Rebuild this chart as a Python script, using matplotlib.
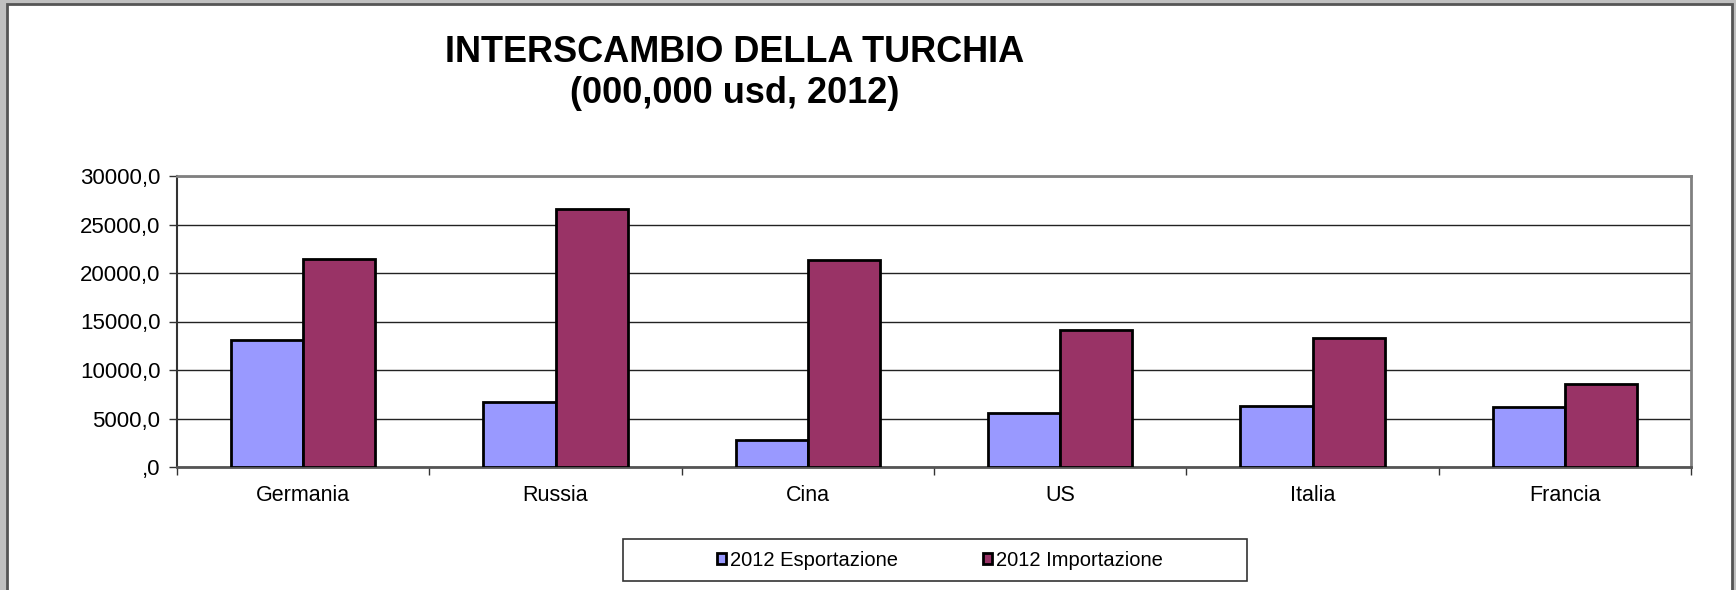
import matplotlib.pyplot as plt
from matplotlib.patches import Rectangle
from matplotlib.ticker import FixedLocator, FuncFormatter
import numpy as np

# data (000,000 usd, 2012)
paesi = ["Germania", "Russia", "Cina", "US", "Italia", "Francia"]
esportazione = [13100, 6700, 2800, 5600, 6300, 6150]
importazione = [21400, 26600, 21300, 14100, 13300, 8550]
serie_labels = ["2012 Esportazione", "2012 Importazione"]
y_ticks = [0, 5000, 10000, 15000, 20000, 25000, 30000]

col_exp = "#9999FF"
col_imp = "#993366"

plt.rcParams["font.family"] = ["Liberation Sans", "DejaVu Sans"]

fig = plt.figure(figsize=(17.36, 5.90), dpi=100)
fig.patch.set_facecolor("#c0c0c0")

# white chart panel with dark border (bottom edge runs off the picture)
fig.patches.append(Rectangle((7 / 1736, -0.05), (1732 - 7) / 1736, (586 / 590) + 0.05,
                             transform=fig.transFigure, facecolor="white",
                             edgecolor="#555555", linewidth=2, zorder=-10))

ax = fig.add_axes([177 / 1736, 123 / 590, (1691 - 177) / 1736, (467 - 176) / 590])
ax.set_facecolor("white")

x = np.arange(len(paesi))
w = 1 / 3.5
ax.bar(x - w / 2, esportazione, w, color=col_exp, edgecolor="black", linewidth=2,
       label=serie_labels[0], zorder=3)
ax.bar(x + w / 2, importazione, w, color=col_imp, edgecolor="black", linewidth=2,
       label=serie_labels[1], zorder=3)

ax.set_xlim(-0.5, len(paesi) - 0.5)
ax.set_ylim(0, 30000)
ax.yaxis.set_major_locator(FixedLocator(y_ticks))


def fmt(v, pos):
    s = f"{v:.1f}".replace(".", ",")
    return s[1:] if s.startswith("0") else s


ax.yaxis.set_major_formatter(FuncFormatter(fmt))
ax.grid(axis="y", color="#222222", linewidth=1.0, zorder=1)

ax.set_xticks(x)
ax.set_xticklabels(paesi)
ax.set_xticks(np.arange(len(paesi) + 1) - 0.5, minor=True)
ax.tick_params(axis="x", which="major", length=0, pad=13, labelsize=15.5)
ax.tick_params(axis="x", which="minor", length=6, width=1, color="#333333", direction="out")
ax.tick_params(axis="y", length=6, width=1, color="#333333", direction="out",
               labelsize=16, pad=6)

for side in ["top", "right"]:
    ax.spines[side].set_color("#808080")
    ax.spines[side].set_linewidth(2)
ax.spines["left"].set_color("#333333")
ax.spines["left"].set_linewidth(1.5)
ax.spines["bottom"].set_color("#555555")
ax.spines["bottom"].set_linewidth(2)

fig.text(735 / 1736, 1 - 53 / 590, "INTERSCAMBIO DELLA TURCHIA", ha="center", va="center",
         fontsize=26, fontweight="bold")
fig.text(735 / 1736, 1 - 94 / 590, "(000,000 usd, 2012)", ha="center", va="center",
         fontsize=26, fontweight="bold")

# legend frame drawn separately, legend centered inside
fig.patches.append(Rectangle((623 / 1736, 9 / 590), 624 / 1736, 42 / 590,
                             transform=fig.transFigure, facecolor="white",
                             edgecolor="#333333", linewidth=1.2, zorder=1))
leg = fig.legend(loc="center", bbox_to_anchor=(940 / 1736, 30 / 590), ncol=2,
                 frameon=False, fontsize=14.5, handlelength=0.45, handleheight=0.45,
                 handletextpad=0.2, columnspacing=4.2)

fig.savefig("out.png", dpi=100, facecolor=fig.get_facecolor())
